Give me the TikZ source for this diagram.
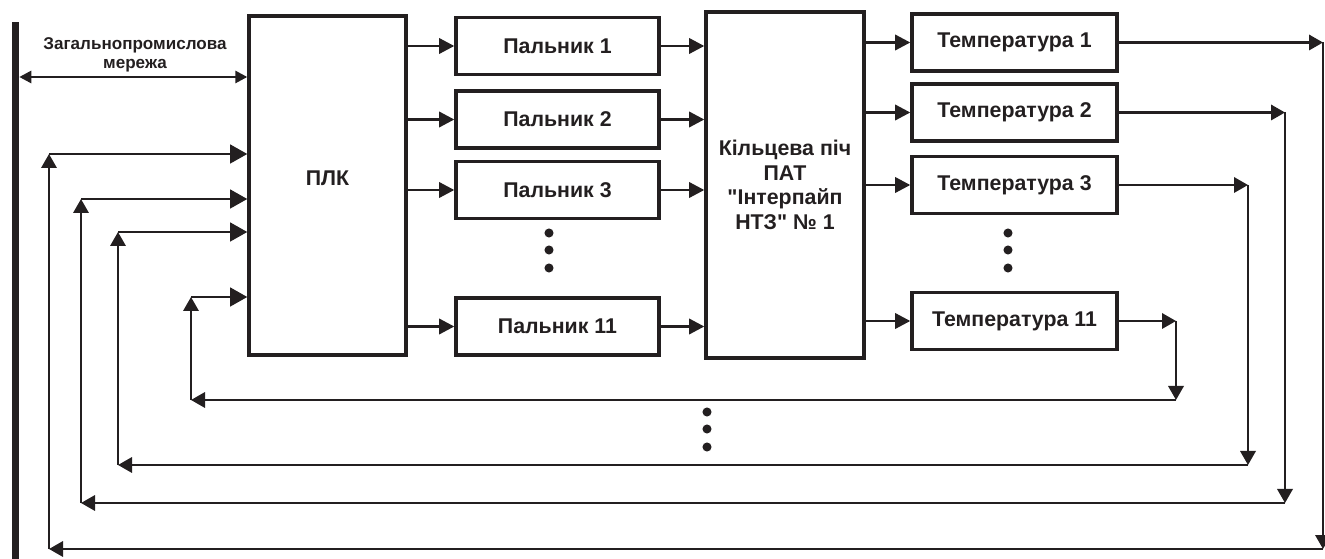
\documentclass[tikz,border=0pt]{standalone}
\usepackage{fontspec}
\newfontfamily\lsans{Liberation Sans}
\usetikzlibrary{arrows.meta}
\definecolor{ink}{RGB}{35,31,32}
\begin{document}
\begin{tikzpicture}[x=0.75pt,y=-0.75pt,
  box/.style={draw=ink, line width=2.5pt, inner sep=0pt, text=ink, align=center,
    font=\lsans\bfseries\fontsize{16}{18.5}\selectfont},
  pbox/.style={box, minimum width=152.25pt, minimum height=42.75pt},
  tbox/.style={box, minimum width=153.75pt, minimum height=42.75pt},
  main/.style={draw=ink, line width=2.2pt, -{Triangle[length=11.5pt,width=11.5pt]}},
  big/.style={draw=ink, line width=2.2pt, -{Triangle[length=13pt,width=14pt]}},
  fb/.style={draw=ink, line width=1.8pt, -{Triangle[length=10.5pt,width=11.5pt]}},
  net/.style={draw=ink, line width=2pt, {Triangle[length=9pt,width=9pt]}-{Triangle[length=9pt,width=9pt]}},
  dot/.style={fill=ink}
]
\useasboundingbox (0,0) rectangle (1325,559);

% left bus bar and network label
\node[fill=ink, inner sep=0pt, minimum width=5.25pt, minimum height=402.75pt] (bar) at (15.5,290.5) {};
\node[text=ink, align=center, font=\lsans\bfseries\fontsize{12.8}{14.25}\selectfont] (netlbl) at (135,54.5) {Загальнопромислова\\мережа};

% main blocks
\node[box, minimum width=117.75pt, minimum height=254.25pt, text height=11.5pt, text depth=11.5pt] (plc) at (327.5,185.5) {ПЛК};
\node[box, minimum width=118.5pt, minimum height=259.5pt] (furn) at (785,185) {Кільцева піч\\ПАТ\\"Інтерпайп\\НТЗ" № 1};

\node[pbox] (p1) at (557.5,46) {Пальник 1};
\node[pbox] (p2) at (557.5,119.5) {Пальник 2};
\node[pbox] (p3) at (557.5,190) {Пальник 3};
\node[pbox] (p11) at (557.5,326.5) {Пальник 11};

\node[tbox] (t1) at (1014.5,42.5) {Температура 1};
\node[tbox] (t2) at (1014.5,112.5) {Температура 2};
\node[tbox] (t3) at (1014.5,185) {Температура 3};
\node[tbox] (t11) at (1014.5,321) {Температура 11};

% network arrow
\coordinate (nety) at (0,77);
\draw[net] (bar.east |- nety) -- (plc.west |- nety);

% PLC -> burners -> furnace -> temperatures
\foreach \n in {p1,p2,p3,p11}{
  \draw[main] (\n.west -| plc.east) -- (\n.west);
  \draw[main] (\n.east) -- (\n.east -| furn.west);
}
\foreach \n in {t1,t2,t3,t11}{
  \draw[main] (\n.west -| furn.east) -- (\n.west);
}

% feedback loops
\coordinate (a1) at (1323,42.5); \coordinate (b1) at (1323,549); \coordinate (c1) at (49,549);  \coordinate (d1) at (49,154);
\coordinate (a2) at (1285,112.5);\coordinate (b2) at (1285,503); \coordinate (c2) at (81,503);  \coordinate (d2) at (81,199);
\coordinate (a3) at (1248,185);  \coordinate (b3) at (1248,465); \coordinate (c3) at (118,465); \coordinate (d3) at (118,232);
\coordinate (a4) at (1176,321);  \coordinate (b4) at (1176,400); \coordinate (c4) at (191,400); \coordinate (d4) at (191,297);

\draw[fb] (t1.east) -- (a1);  \draw[fb] (a1) -- (b1); \draw[fb] (b1) -- (c1); \draw[fb] (c1) -- (d1); \draw[big] (d1) -- (d1 -| plc.west);
\draw[fb] (t2.east) -- (a2);  \draw[fb] (a2) -- (b2); \draw[fb] (b2) -- (c2); \draw[fb] (c2) -- (d2); \draw[big] (d2) -- (d2 -| plc.west);
\draw[fb] (t3.east) -- (a3);  \draw[fb] (a3) -- (b3); \draw[fb] (b3) -- (c3); \draw[fb] (c3) -- (d3); \draw[big] (d3) -- (d3 -| plc.west);
\draw[fb] (t11.east) -- (a4); \draw[fb] (a4) -- (b4); \draw[fb] (b4) -- (c4); \draw[fb] (c4) -- (d4); \draw[big] (d4) -- (d4 -| plc.west);

% ellipsis dots
\foreach \yy in {233,250,268}{
  \fill[dot] (549,\yy) circle (3.4pt);
  \fill[dot] (1008,\yy) circle (3.4pt);
}
\foreach \yy in {412,429,447}{
  \fill[dot] (707,\yy) circle (3.4pt);
}
\end{tikzpicture}
\end{document}
